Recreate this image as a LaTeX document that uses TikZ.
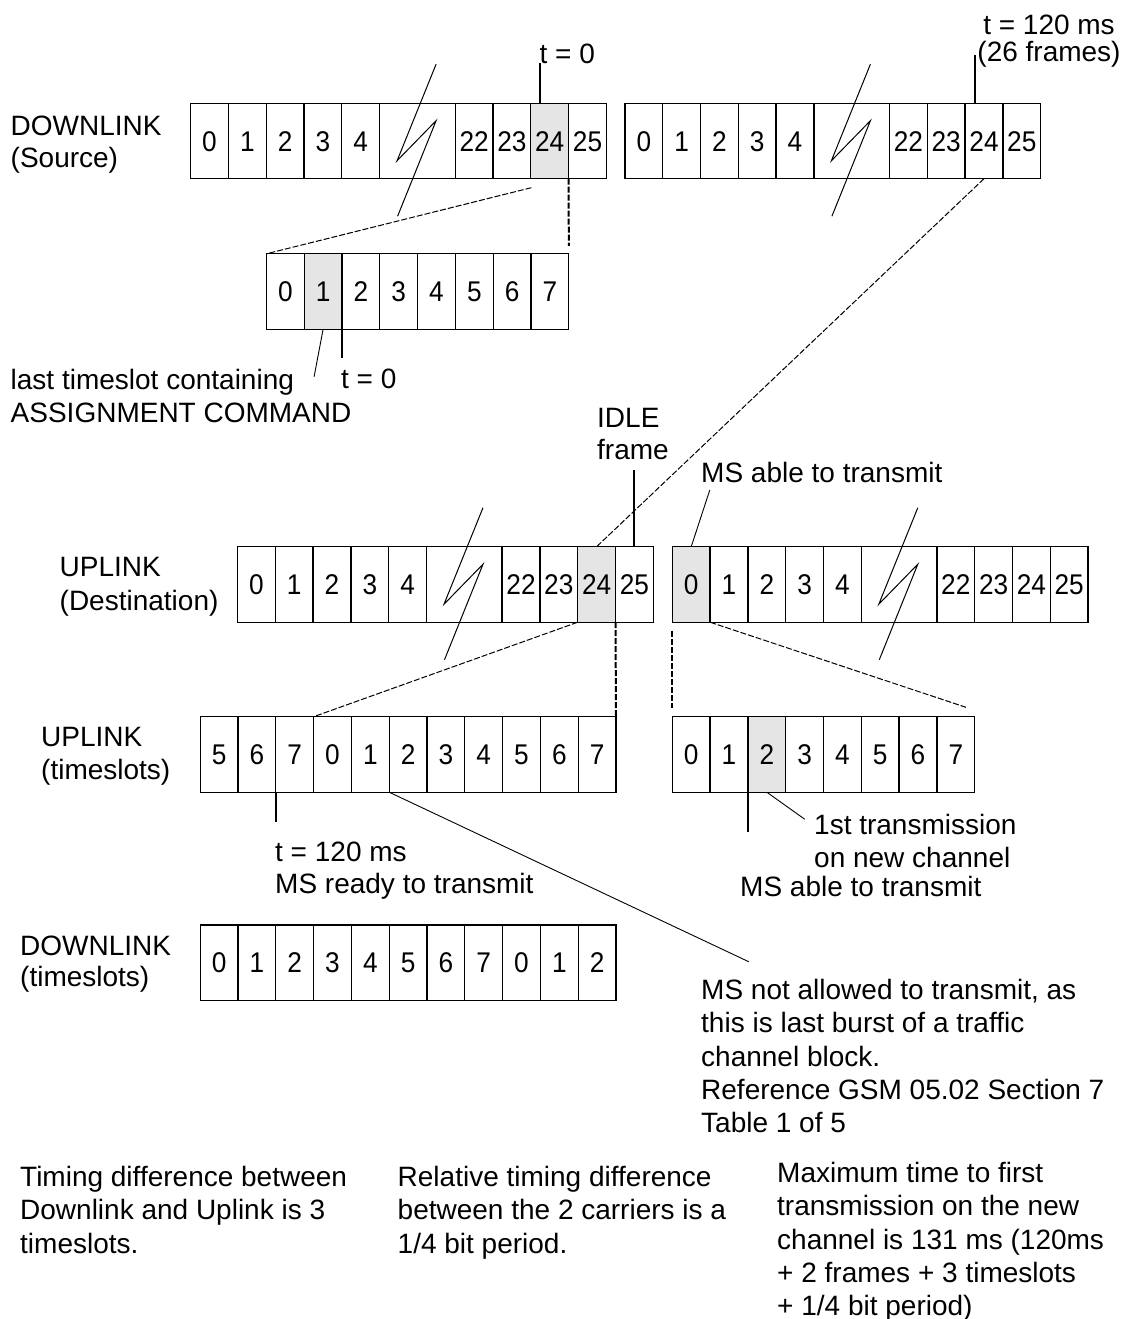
\documentclass[tikz,border=0pt]{standalone}
\usepackage{fontspec}
\setmainfont{Liberation Sans}
\newfontfamily\lblfamily{Liberation Sans}
\newfontfamily\cellfamily{Liberation Sans}[FakeStretch=0.92]
\usetikzlibrary{calc}
\definecolor{cellgray}{RGB}{229,229,229}
\tikzset{
  cell/.style={draw, line width=1.3pt, minimum width=37.8pt, minimum height=75.5pt,
    inner sep=0pt, outer sep=0pt, anchor=north west, text height=20.4pt, text depth=0pt,
    font=\cellfamily\fontsize{28.5}{30}\selectfont},
  lbl/.style={inner sep=0pt, align=left, anchor=north west,
    font=\lblfamily\fontsize{28}{33.3}\selectfont},
  tick/.style={line width=2pt},
  leader/.style={line width=0.9pt},
  dashdiag/.style={line width=1pt, dash pattern=on 6pt off 2pt},
  dashvert/.style={line width=2pt, dash pattern=on 6pt off 2pt},
  bolt/.style={line width=1pt, line join=miter},
}
% row of plain timeslot cells: name, x, y, labels, gray index
\newcommand{\slotrow}[5]{%
  \foreach \lab [count=\i from 0] in {#4} {
    \ifnum\i=#5\relax\def\cellfill{cellgray}\else\def\cellfill{white}\fi
    \node[cell, fill=\cellfill] (#1\i) at ({#2+\i*37.8},#3) {\lab};
  }
}
% frame row 0..4 / break / 22..25: name, x, y, gray label
\newcommand{\framerow}[4]{%
  \foreach \lab/\k in {0/0,1/1,2/2,3/3,4/4,22/7,23/8,24/9,25/10} {
    \ifnum\lab=#4\relax\def\cellfill{cellgray}\else\def\cellfill{white}\fi
    \node[cell, fill=\cellfill] (#1\lab) at ({#2+\k*37.8},#3) {\lab};
  }
  \node[cell, minimum width=75.6pt] (#1gap) at ({#2+5*37.8},#3) {};
  \draw[bolt] ($(#1gap.north west)+(56.5,-39)$) -- ($(#1gap.north west)+(17.5,57.5)$)
     -- ($(#1gap.north west)+(56.5,17.5)$) -- ($(#1gap.north west)+(18,113)$);
}
\begin{document}
\begin{tikzpicture}[x=1pt,y=-1pt]
\fill[white] (0,0) rectangle (1130,1319);
\useasboundingbox (0,0) rectangle (1130,1319);

% ---------- rows ----------
\framerow{dA}{190.6}{103.2}{24}
\framerow{dB}{624.9}{103.2}{-1}
\slotrow{ds}{266.4}{253.8}{0,1,2,3,4,5,6,7}{1}
\framerow{uA}{237.5}{546.7}{24}
\framerow{uB}{672.3}{546.7}{0}
\slotrow{usA}{200.2}{716.7}{5,6,7,0,1,2,3,4,5,6,7}{-1}
\slotrow{usB}{672.3}{716.7}{0,1,2,3,4,5,6,7}{2}
\slotrow{dsl}{200.2}{925}{0,1,2,3,4,5,6,7,0,1,2}{-1}

% ---------- labels ----------
\node[lbl, font=\lblfamily\fontsize{28}{31.5}\selectfont] (lDLsrc) at (10.5,116) {DOWNLINK\\(Source)};
\node[lbl, anchor=base west] (lt0a) at (539.5,64) {t = 0};
\node[lbl, align=center, anchor=north, font=\lblfamily\fontsize{28}{27}\selectfont] (lt120a) at (1049,15) {t = 120 ms\\(26 frames)};
\node[lbl] (llast) at (10.5,369) {last timeslot containing\\ASSIGNMENT COMMAND};
\node[lbl, anchor=base west] (lt0b) at (341,388) {t = 0};
\node[lbl, font=\lblfamily\fontsize{28}{32}\selectfont] (lidle) at (597,408) {IDLE\\frame};
\node[lbl] (lable1) at (701,462) {MS able to transmit};
\node[lbl, font=\lblfamily\fontsize{28}{34}\selectfont] (lULdst) at (59.5,557) {UPLINK\\(Destination)};
\node[lbl] (lULts) at (41,727) {UPLINK\\(timeslots)};
\node[lbl, font=\lblfamily\fontsize{28}{32}\selectfont] (lready) at (275,842) {t = 120 ms\\MS ready to transmit};
\node[lbl] (lfirst) at (814,814) {1st transmission\\on new channel};
\node[lbl] (lable2) at (740,876) {MS able to transmit};
\node[lbl, font=\lblfamily\fontsize{28}{31}\selectfont] (lDLts) at (20,936) {DOWNLINK\\(timeslots)};
\node[lbl] (lnot) at (701,979) {MS not allowed to transmit, as\\this is last burst of a traffic\\channel block.\\Reference GSM 05.02 Section 7\\Table 1 of 5};
\node[lbl] (ltiming) at (20,1166) {Timing difference between\\Downlink and Uplink is 3\\timeslots.};
\node[lbl] (lrel) at (397.5,1166) {Relative timing difference\\between the 2 carriers is a\\1/4 bit period.};
\node[lbl] (lmax) at (777,1162) {Maximum time to first\\transmission on the new\\channel is 131 ms (120ms\\+ 2 frames + 3 timeslots\\+ 1/4 bit period)};

% ---------- connectors ----------
% downlink source, frame A
\draw[tick] ($(dA24.north west)+(9.4,0)$) -- ++(0,-40);
\draw[dashdiag] ($(dA24.south west)+(0.5,9)$) -- (ds0.north west);
\draw[dashvert] (dA25.south west) -- ($(ds7.north east)+(0,-8)$);
\draw[leader] (ds1.south) -- ++(-9,47.4);
\draw[tick] (ds2.south west) -- ++(0,29);
% downlink source, frame B
\draw[tick] ($(dB24.north west)+(9.8,0)$) -- ++(0,-48);
\draw[dashdiag] (dB24.south) -- (uA24.north);
% uplink destination
\draw[tick] (uA25.north) -- ++(0,-76.7);
\draw[leader] (uB0.north) -- ++(18.6,-56.7);
\draw[dashdiag] (uA24.south west) -- (usA3.north west);
\draw[dashvert] (uA25.south west) -- (usA10.north east);
\draw[dashdiag] (uB0.south east) -- ($(usB7.north east)+(-8.8,-9.4)$);
\draw[dashvert] ($(uB0.south west)+(0,8.4)$) -- ($(usB0.north west)+(0,-8.4)$);
% uplink timeslots
\draw[tick] (usA2.south west) -- ++(0,30);
\draw[leader] (usA5.south west) -- ($(lnot.north west)+(47.7,-17.3)$);
\draw[tick] (usB2.south west) -- ++(0,39.7);
\draw[leader] (usB2.south) -- ++(37.9,27);
\end{tikzpicture}
\end{document}
